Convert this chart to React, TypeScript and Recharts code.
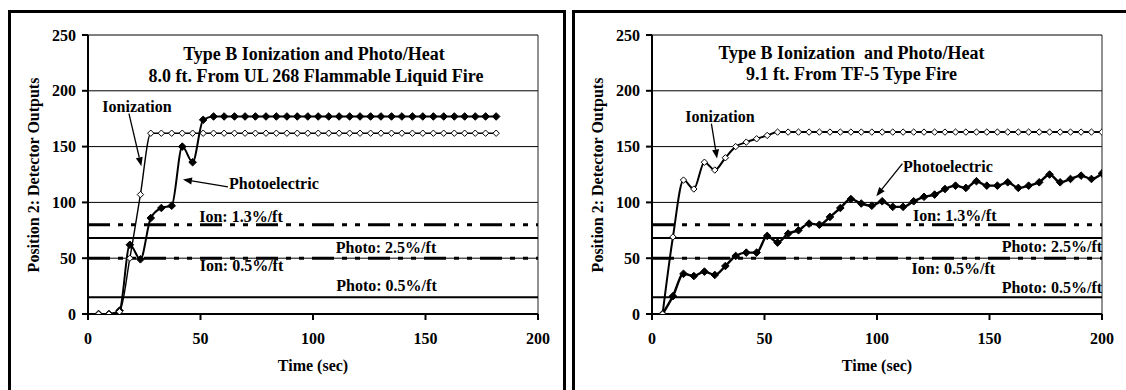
import React from 'react';
import { LineChart, Line, XAxis, YAxis, CartesianGrid, ReferenceLine } from 'recharts';

// time (sec) of each sample
const leftTime = [
  4.7, 9.3, 14.0, 18.6, 23.3, 27.9, 32.6, 37.2, 41.9, 46.5, 51.2, 55.8, 60.5, 65.1, 69.8, 74.4, 79.1, 83.7, 88.4, 93.0,
  97.7, 102.3, 107.0, 111.6, 116.3, 120.9, 125.6, 130.2, 134.9, 139.5, 144.2, 148.8, 153.5, 158.1, 162.8, 167.4, 172.1,
  176.7, 181.4,
];
const leftIonization = [
  0, 0, 2, 50, 107, 162, 162, 162, 162, 162, 162, 162, 162, 162, 162, 162, 162, 162, 162, 162,
  162, 162, 162, 162, 162, 162, 162, 162, 162, 162, 162, 162, 162, 162, 162, 162, 162, 162, 162,
];
const leftPhotoelectric = [
  0, 0, 3, 62, 49, 86, 95, 97, 150, 136, 174, 177, 177, 177, 177, 177, 177, 177, 177, 177,
  177, 177, 177, 177, 177, 177, 177, 177, 177, 177, 177, 177, 177, 177, 177, 177, 177, 177, 177,
];

const rightTime = [
  4.7, 9.3, 14.0, 18.6, 23.3, 27.9, 32.6, 37.2, 41.9, 46.5, 51.2, 55.8, 60.5, 65.1, 69.8, 74.4, 79.1, 83.7, 88.4, 93.0,
  97.7, 102.3, 107.0, 111.6, 116.3, 120.9, 125.6, 130.2, 134.9, 139.5, 144.2, 148.8, 153.5, 158.1, 162.8, 167.4, 172.1,
  176.7, 181.4, 186.0, 190.7, 195.3, 200.0,
];
const rightIonization = [
  0, 69, 120, 112, 136, 129, 140, 150, 154, 157, 160, 163, 163, 163, 163, 163, 163, 163, 163, 163,
  163, 163, 163, 163, 163, 163, 163, 163, 163, 163, 163, 163, 163, 163, 163, 163, 163, 163, 163, 163,
  163, 163, 163,
];
const rightPhotoelectric = [
  0, 16, 36, 34, 38, 35, 43, 52, 55, 55, 70, 64, 72, 75, 81, 80, 87, 95, 103, 99,
  97, 101, 96, 96, 101, 105, 107, 112, 115, 113, 119, 115, 115, 118, 113, 115, 118, 125, 118, 121,
  124, 121, 126,
];

// alarm thresholds (detector output)
const ionHigh = 80; // Ion: 1.3%/ft
const photoHigh = 68; // Photo: 2.5%/ft
const ionLow = 50; // Ion: 0.5%/ft
const photoLow = 15; // Photo: 0.5%/ft

const xTicks = [0, 50, 100, 150, 200];
const xMinorTicks = [0, 10, 20, 30, 40, 50, 60, 70, 80, 90, 100, 110, 120, 130, 140, 150, 160, 170, 180, 190, 200];
const yTicks = [0, 50, 100, 150, 200, 250];
const yMinorTicks = [0, 25, 50, 75, 100, 125, 150, 175, 200, 225, 250];

const FONT = '"Liberation Serif", "Times New Roman", Times, serif';
const DASH = '22 8 5 8 5 8';

function Diamond({ cx, cy, filled, size }: { cx?: number; cy?: number; filled: boolean; size: number }) {
  if (cx == null || cy == null) return null;
  const s = size;
  return (
    <path
      d={`M${cx},${cy - s}L${cx + s},${cy}L${cx},${cy + s}L${cx - s},${cy}Z`}
      fill={filled ? '#000' : '#fff'}
      stroke="#000"
      strokeWidth={1}
    />
  );
}

function Arrow(props: any) {
  const { x1, y1, x2, y2 } = props;
  if ([x1, y1, x2, y2].some((v) => v == null || isNaN(v))) return null;
  const a = Math.atan2(y2 - y1, x2 - x1);
  const len = 9;
  const w = 3.5;
  const bx = x2 - len * Math.cos(a);
  const by = y2 - len * Math.sin(a);
  const p1 = `${bx - w * Math.sin(a)},${by + w * Math.cos(a)}`;
  const p2 = `${bx + w * Math.sin(a)},${by - w * Math.cos(a)}`;
  return (
    <g>
      <line x1={x1} y1={y1} x2={bx} y2={by} stroke="#000" strokeWidth={1.3} />
      <polygon points={`${x2},${y2} ${p1} ${p2}`} fill="#000" />
    </g>
  );
}

type Seg = [{ x: number; y: number }, { x: number; y: number }];
type Txt = { text: string; x: number; y: number; anchor?: 'start' | 'middle' | 'end'; size?: number };

interface PanelProps {
  left: number;
  time: number[];
  ion: number[];
  photo: number[];
  ionWidth: number;
  photoWidth: number;
  arrows: Seg[];
  texts: Txt[];
}

function Panel({ left, time, ion, photo, ionWidth, photoWidth, arrows, texts }: PanelProps) {
  const rows = time.map((t, i) => ({ t, ion: ion[i], photo: photo[i] }));
  const tickStyle = { fill: '#000', fontSize: 16, fontWeight: 'bold', fontFamily: FONT };
  const axisLine = { stroke: '#000', strokeWidth: 2 };
  return (
    <div style={{ position: 'absolute', left, top: 0, width: 564, height: 390 }}>
      <LineChart width={564} height={390} data={rows} margin={{ top: 35, right: 26, bottom: 0, left: 0 }}>
        <CartesianGrid vertical={false} stroke="#000" strokeWidth={1} />
        <XAxis
          dataKey="t"
          type="number"
          domain={[0, 200]}
          allowDataOverflow
          ticks={xTicks}
          interval={0}
          height={76}
          tickSize={6}
          tickMargin={13}
          axisLine={axisLine}
          tickLine={axisLine}
          tick={tickStyle}
        />
        <XAxis
          xAxisId="minor"
          dataKey="t"
          type="number"
          domain={[0, 200]}
          allowDataOverflow
          ticks={xMinorTicks}
          interval={0}
          mirror
          height={0}
          tickSize={6}
          axisLine={false}
          tickLine={axisLine}
          tick={() => <g />}
        />
        <YAxis
          type="number"
          domain={[0, 250]}
          allowDataOverflow
          ticks={yTicks}
          interval={0}
          width={88}
          tickSize={6}
          tickMargin={6}
          axisLine={axisLine}
          tickLine={axisLine}
          tick={tickStyle}
        />
        <YAxis
          yAxisId="minor"
          type="number"
          domain={[0, 250]}
          allowDataOverflow
          ticks={yMinorTicks}
          interval={0}
          mirror
          width={0}
          tickSize={5}
          axisLine={false}
          tickLine={axisLine}
          tick={() => <g />}
        />
        <ReferenceLine x={200} stroke="#222" strokeWidth={1} />
        <ReferenceLine y={ionHigh} stroke="#000" strokeWidth={3} strokeDasharray={DASH} />
        <ReferenceLine y={photoHigh} stroke="#000" strokeWidth={2} />
        <ReferenceLine y={ionLow} stroke="#000" strokeWidth={3} strokeDasharray={DASH} />
        <ReferenceLine y={photoLow} stroke="#000" strokeWidth={2} />
        {arrows.map((s, i) => (
          <ReferenceLine key={i} segment={s} shape={(p: any) => <Arrow {...p} />} />
        ))}
        <Line
          dataKey="photo"
          type="monotone"
          stroke="#000"
          strokeWidth={photoWidth}
          isAnimationActive={false}
          dot={(p: any) => <Diamond key={`p${p.index}`} cx={p.cx} cy={p.cy} filled size={3.8} />}
        />
        <Line
          dataKey="ion"
          type="monotone"
          stroke="#000"
          strokeWidth={ionWidth}
          isAnimationActive={false}
          dot={(p: any) => <Diamond key={`i${p.index}`} cx={p.cx} cy={p.cy} filled={false} size={3.2} />}
        />
      </LineChart>
      <svg
        width={564}
        height={390}
        style={{ position: 'absolute', left: 0, top: 0, pointerEvents: 'none' }}
        fontFamily={FONT}
        fontWeight="bold"
      >
        {texts.map((t, i) => (
          <text
            key={i}
            x={t.x}
            y={t.y}
            textAnchor={t.anchor ?? 'middle'}
            fontSize={t.size ?? 16}
            fill="#000"
            style={{ whiteSpace: 'pre' }}
          >
            {t.text}
          </text>
        ))}
        <text x={39} y={175} textAnchor="middle" fontSize={16} fill="#000" transform="rotate(-90 39 175)">
          Position 2: Detector Outputs
        </text>
        <text x={313} y={371} textAnchor="middle" fontSize={16} fill="#000">
          Time (sec)
        </text>
      </svg>
    </div>
  );
}

export default function App() {
  return (
    <div style={{ position: 'absolute', left: 0, top: 0, width: 1126, height: 390, background: '#fff', overflow: 'hidden' }}>
      <div style={{ position: 'absolute', left: 8, top: 10, width: 558, height: 420, border: '3px solid #000', boxSizing: 'border-box' }} />
      <div style={{ position: 'absolute', left: 572, top: 10, width: 600, height: 420, border: '3px solid #000', boxSizing: 'border-box' }} />
      <Panel
        left={0}
        time={leftTime}
        ion={leftIonization}
        photo={leftPhotoelectric}
        ionWidth={1.4}
        photoWidth={2}
        arrows={[
          [{ x: 18.2, y: 179.5 }, { x: 23.7, y: 132.4 }],
          [{ x: 62.2, y: 113.9 }, { x: 42.2, y: 120.5 }],
        ]}
        texts={[
          { text: 'Type B Ionization and Photo/Heat', x: 314, y: 60, size: 18 },
          { text: '8.0 ft. From UL 268 Flammable Liquid Fire', x: 316, y: 81.5, size: 18 },
          { text: 'Ionization', x: 137, y: 111.5 },
          { text: 'Photoelectric', x: 229, y: 189, anchor: 'start' },
          { text: 'Ion: 1.3%/ft', x: 241, y: 221.5 },
          { text: 'Photo: 2.5%/ft', x: 386, y: 252.5 },
          { text: 'Ion: 0.5%/ft', x: 241.5, y: 271 },
          { text: 'Photo: 0.5%/ft', x: 386.5, y: 291 },
        ]}
      />
      <Panel
        left={564}
        time={rightTime}
        ion={rightIonization}
        photo={rightPhotoelectric}
        ionWidth={2}
        photoWidth={2.4}
        arrows={[
          [{ x: 26.4, y: 170.5 }, { x: 28.9, y: 139.3 }],
          [{ x: 111.3, y: 134.8 }, { x: 99.7, y: 105.6 }],
        ]}
        texts={[
          { text: 'Type B Ionization  and Photo/Heat', x: 287.5, y: 58.5, size: 18 },
          { text: '9.1 ft. From TF-5 Type Fire', x: 287.5, y: 79.5, size: 18 },
          { text: 'Ionization', x: 156, y: 122 },
          { text: 'Photoelectric', x: 339, y: 171.5, anchor: 'start' },
          { text: 'Ion: 1.3%/ft', x: 390.7, y: 221 },
          { text: 'Photo: 2.5%/ft', x: 437.7, y: 251.7, anchor: 'start' },
          { text: 'Ion: 0.5%/ft', x: 389.3, y: 274 },
          { text: 'Photo: 0.5%/ft', x: 437.7, y: 292.5, anchor: 'start' },
        ]}
      />
    </div>
  );
}
